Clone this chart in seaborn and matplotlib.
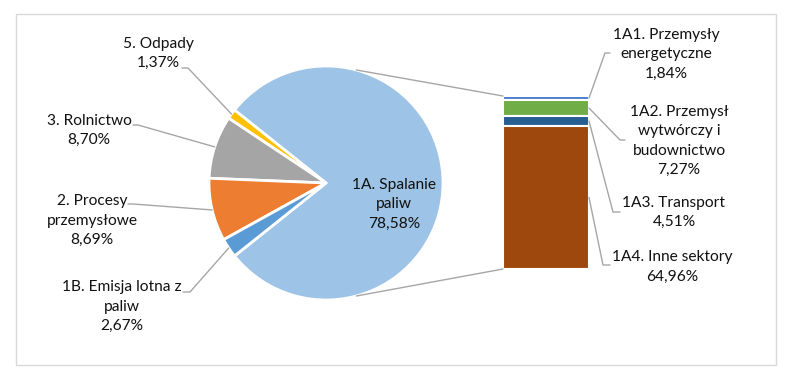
import numpy as np
import matplotlib.pyplot as plt
import seaborn as sns
from matplotlib.patches import Rectangle

sns.set_theme(style='white')
plt.rcParams['font.family'] = ['Lato', 'DejaVu Sans']

# dane - wykres kolowy (kolejnosc przeciwnie do ruchu wskazowek zegara)
pie_labels = ['1A. Spalanie\npaliw', '5. Odpady', '3. Rolnictwo',
              '2. Procesy\nprzemysłowe', '1B. Emisja lotna z\npaliw']
pie_values = [78.58, 1.37, 8.70, 8.69, 2.67]
pie_colors = ['#9DC3E6', '#FFC000', '#A5A5A5', '#ED7D31', '#5B9BD5']

# dane - slupek rozbicia 1A (od gory)
bar_labels = ['1A1. Przemysły\nenergetyczne', '1A2. Przemysł\nwytwórczy i\nbudownictwo',
              '1A3. Transport', '1A4. Inne sektory']
bar_values = [1.84, 7.27, 4.51, 64.96]
bar_colors = ['#4A7BC8', '#70AD47', '#255E91', '#9E480E']

W, H = 790, 381
text_color = '#111111'
line_color = '#A6A6A6'
fs = 11.2
ls = 1.5


def fmt(v):
    return f'{v:.2f}'.replace('.', ',') + '%'


fig = plt.figure(figsize=(W / 100, H / 100), dpi=100)

# kolo
cx, cy, R = 326, 183, 117
ax_pie = fig.add_axes([(cx - R) / W, (H - cy - R) / H, 2 * R / W, 2 * R / H])
total = sum(pie_values)
start = -pie_values[0] / total * 180
wedges, _ = ax_pie.pie(pie_values, colors=pie_colors, startangle=start, counterclock=True,
                       wedgeprops=dict(edgecolor='white', linewidth=2))
ax_pie.set_xlim(-1, 1)
ax_pie.set_ylim(-1, 1)

# slupek
bx0, bx1, by0, by1 = 503, 589, 96, 269
ax_bar = fig.add_axes([bx0 / W, (H - by1) / H, (bx1 - bx0) / W, (by1 - by0) / H])
bar_total = sum(bar_values)
bottoms = bar_total - np.cumsum(bar_values)
for v, b, c in zip(bar_values, bottoms, bar_colors):
    ax_bar.bar(0, v, bottom=b, width=1, color=c, edgecolor='white', linewidth=1.5)
ax_bar.set_xlim(-0.5, 0.5)
ax_bar.set_ylim(0, bar_total)
ax_bar.axis('off')

# nakladka w pikselach (os y w dol), nad kolem i slupkiem
ax_ov = fig.add_axes([0, 0, 1, 1])
ax_ov.set_xlim(0, W)
ax_ov.set_ylim(H, 0)
ax_ov.axis('off')
ax_ov.set_zorder(5)
ax_ov.add_patch(Rectangle((16, 14), 760, 351, fill=False, edgecolor='#D9D9D9', lw=1))


def pie_to_px(x, y):
    return ax_ov.transData.inverted().transform(ax_pie.transData.transform((x, y)))


def bar_to_px(x, y):
    return ax_ov.transData.inverted().transform(ax_bar.transData.transform((x, y)))


# linie laczace kolo ze slupkiem
conn_angle = 75
for sgn, by in [(1, bar_total), (-1, 0)]:
    p = pie_to_px(np.cos(np.radians(conn_angle)), sgn * np.sin(np.radians(conn_angle)))
    q = bar_to_px(-0.5, by)
    ax_ov.plot([p[0], q[0]], [p[1], q[1]], color=line_color, lw=1)

# etykiety kola
pie_text_pos = [(394, 204), (158, 53.5), (89, 130.5), (92, 220.5), (122, 306.5)]
pie_elbows = [None, [(188, 68), (182, 68)], [(138, 125), (133, 125)],
              [(133, 204), (128, 204)], [(190, 292), (183, 292)]]
for w, lab, v, pos, elb in zip(wedges, pie_labels, pie_values, pie_text_pos, pie_elbows):
    ax_ov.text(pos[0], pos[1], lab + '\n' + fmt(v), ha='center', va='center',
               fontsize=fs, color=text_color, linespacing=ls)
    if elb is None:
        continue
    mid = np.radians((w.theta1 + w.theta2) / 2)
    a = pie_to_px(np.cos(mid), np.sin(mid))
    pts = [tuple(a)] + elb
    ax_ov.plot([p[0] for p in pts], [p[1] for p in pts], color=line_color, lw=1)

# etykiety slupka
bar_text_pos = [(666, 54), (679, 141), (674, 212.5), (672, 267)]
bar_elbows = [[(605, 53), (610, 53)], [(620, 140), (625, 140)],
              [(613, 212), (620, 212)], [(603, 265), (610, 265)]]
for lab, v, b, pos, elb in zip(bar_labels, bar_values, bottoms, bar_text_pos, bar_elbows):
    ax_ov.text(pos[0], pos[1], lab + '\n' + fmt(v), ha='center', va='center',
               fontsize=fs, color=text_color, linespacing=ls)
    a = bar_to_px(0.5, b + v / 2)
    pts = [tuple(a)] + elb
    ax_ov.plot([p[0] for p in pts], [p[1] for p in pts], color=line_color, lw=1)

fig.savefig('out.png', dpi=100)
